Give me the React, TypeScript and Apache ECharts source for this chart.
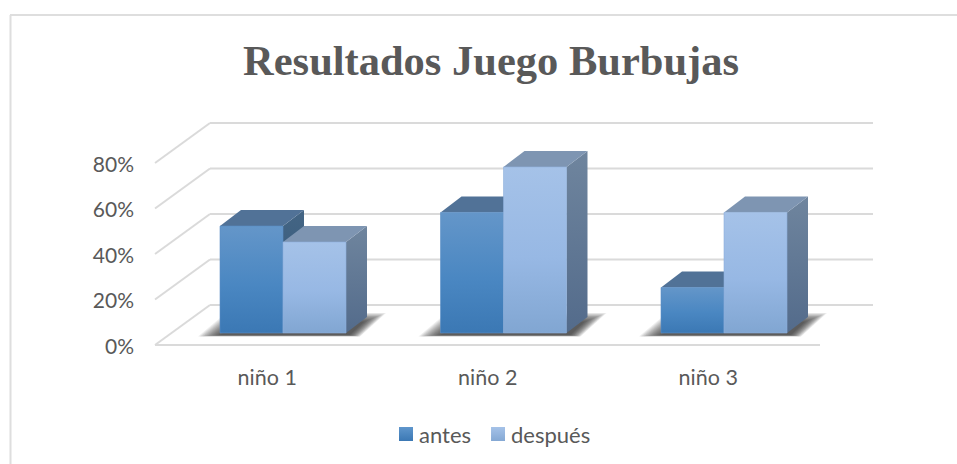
import React, { useEffect, useRef } from "react";
import * as echarts from "echarts";

const titleText = "Resultados Juego Burbujas";
const categories = ["niño 1", "niño 2", "niño 3"];
const antes = [47, 53, 20];
const despues = [40, 73, 53];
const yTicks = [0, 20, 40, 60, 80];

const BAR_W = 63;
const FLOOR_DY = 12;
const DX = 21;
const DY = 16;
const WALL_DX = 55;
const WALL_DY = 40;
const GRID_COLOR = "#dadada";

const vgrad = (stops: [number, string][]) =>
  new echarts.graphic.LinearGradient(0, 0, 0, 1, stops.map(([offset, color]) => ({ offset, color })));

const palette = {
  antes: {
    front: () => vgrad([[0, "#6496c9"], [0.55, "#4a87c2"], [1, "#3b78b4"]]),
    top: "#517297",
    side: () => vgrad([[0, "#446584"], [1, "#2f5478"]]),
    legend: () => vgrad([[0, "#5f96cc"], [1, "#3b78b4"]]),
    stroke: "#5a8fc6",
  },
  despues: {
    front: () => vgrad([[0, "#a5c2e8"], [0.55, "#97b8e4"], [1, "#81a6d2"]]),
    top: "#7e95b2",
    side: () => vgrad([[0, "#6f859e"], [1, "#536b8b"]]),
    legend: () => vgrad([[0, "#a5c2e8"], [1, "#84a8d4"]]),
    stroke: "#8fb0dc",
  },
};

function barRender(p: typeof palette.antes, x0: number) {
  return (_: any, api: any) => {
    const base = api.coord([api.value(0), 0]);
    const topPt = api.coord([api.value(0), api.value(1)]);
    const l = base[0] + x0;
    const r = l + BAR_W;
    const b = base[1] - FLOOR_DY;
    const t = topPt[1] - FLOOR_DY;
    return {
      type: "group",
      children: [
        {
          type: "polygon",
          shape: { points: [[r, t], [r + DX, t - DY], [r + DX, b - DY], [r, b]] },
          style: { fill: p.side() },
        },
        {
          type: "polygon",
          shape: { points: [[l, t], [l + DX, t - DY], [r + DX, t - DY], [r, t]] },
          style: { fill: p.top },
        },
        {
          type: "rect",
          shape: { x: l, y: t, width: BAR_W, height: b - t },
          style: { fill: p.front(), stroke: p.stroke, lineWidth: 0.6 },
        },
      ],
    };
  };
}

function wallsRender(_: any, api: any) {
  const v = api.value(0);
  const left = api.coord([0, v]);
  const x0 = left[0] - 110.25 - 2;
  const y0 = left[1];
  const style = { stroke: GRID_COLOR, lineWidth: 2, fill: "none" };
  const children: any[] = [
    { type: "line", shape: { x1: x0, y1: y0, x2: x0 + WALL_DX, y2: y0 - WALL_DY }, style },
    { type: "line", shape: { x1: x0 + WALL_DX, y1: y0 - WALL_DY, x2: 873, y2: y0 - WALL_DY }, style },
  ];
  if (v === 0) {
    children.push({ type: "line", shape: { x1: x0, y1: y0, x2: 820, y2: y0 }, style });
  }
  return { type: "group", children };
}

function shadowRender(_: any, api: any) {
  const base = api.coord([api.value(0), 0]);
  const l = base[0] - 47.25;
  const b = base[1] - FLOOR_DY;
  const r = l + 2 * BAR_W;
  const layers = Array.from({ length: 16 }, (_v, i) => i);
  return {
    type: "group",
    children: layers.map((i) => ({
      type: "polygon",
      shape: {
        points: [
          [l - 22 + i * 1.5, b + 3.5 - i * 0.1],
          [l + 6 + i * 1.0, b - 20 + i * 0.6],
          [r + 40 - i * 1.5, b - 20 + i * 0.6],
          [r + 14 - i * 0.7, b + 3.5 - i * 0.1],
        ],
      },
      style: { fill: "rgba(40,40,40,0.08)" },
    })),
  };
}

export default function App() {
  const ref = useRef<HTMLDivElement>(null);
  useEffect(() => {
    const chart = echarts.init(ref.current!, null, { renderer: "svg" });
    chart.setOption({
      animation: false,
      backgroundColor: "#ffffff",
      title: {
        text: titleText,
        left: 491,
        top: 39,
        padding: 0,
        textAlign: "center",
        textStyle: {
          fontFamily: "Liberation Serif",
          fontWeight: "bold",
          fontSize: 42.5,
          color: "#595959",
        },
      },
      legend: {
        data: ["antes", "después"],
        left: 399,
        top: 423,
        padding: 0,
        itemWidth: 14,
        itemHeight: 14,
        itemGap: 20,
        icon: "rect",
        textStyle: { fontFamily: "Lato", fontSize: 22, color: "#595959", padding: [0, 0, 0, 1] },
      },
      grid: { left: 157, top: 163, width: 661.5, height: 182 },
      xAxis: {
        type: "category",
        data: categories,
        axisLine: { show: false },
        axisTick: { show: false },
        axisLabel: { fontFamily: "Lato", fontSize: 21.5, color: "#595959", margin: 21 },
      },
      yAxis: {
        type: "value",
        min: 0,
        max: 80,
        interval: 20,
        axisLine: { show: false },
        axisTick: { show: false },
        splitLine: { show: false },
        axisLabel: {
          fontFamily: "Lato",
          fontSize: 21,
          color: "#595959",
          margin: 23,
          padding: [3, 0, 0, 0],
          formatter: "{value}%",
        },
      },
      graphic: [
        { type: "line", silent: true, shape: { x1: 10.5, y1: 15, x2: 10.5, y2: 464 }, style: { stroke: "#dedede", lineWidth: 2 } },
        { type: "line", silent: true, shape: { x1: 10, y1: 15, x2: 957, y2: 15 }, style: { stroke: "#dedede", lineWidth: 2 } },
      ],
      series: [
        {
          type: "custom",
          name: "walls",
          renderItem: wallsRender,
          data: yTicks.map((v) => [v]),
          encode: { y: 0 },
          silent: true,
          z: 1,
        },
        {
          type: "custom",
          name: "shadow",
          renderItem: shadowRender,
          data: categories.map((_, i) => [i]),
          encode: { x: 0 },
          silent: true,
          z: 2,
        },
        {
          type: "custom",
          name: "antes",
          renderItem: barRender(palette.antes, -47.25),
          data: antes.map((v, i) => [i, v]),
          encode: { x: 0, y: 1 },
          itemStyle: { color: palette.antes.legend() },
          z: 3,
        },
        {
          type: "custom",
          name: "después",
          renderItem: barRender(palette.despues, 15.75),
          data: despues.map((v, i) => [i, v]),
          encode: { x: 0, y: 1 },
          itemStyle: { color: palette.despues.legend() },
          z: 4,
        },
      ],
    });
    return () => chart.dispose();
  }, []);
  return <div ref={ref} style={{ position: "fixed", left: 0, top: 0, width: 957, height: 464 }} />;
}
